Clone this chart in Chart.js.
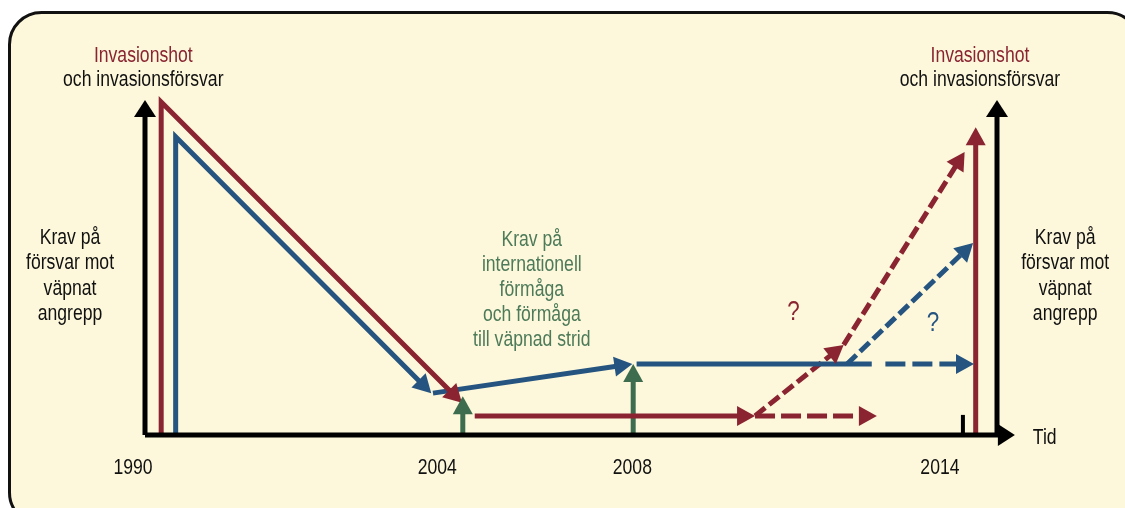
<!DOCTYPE html>
<html>
<head>
<meta charset="utf-8">
<script src="https://cdn.jsdelivr.net/npm/chart.js@4/dist/chart.umd.min.js"></script>
<style>
  html, body { margin: 0; background: #fff; }
  #wrap { width: 1125px; height: 508px; }
</style>
</head>
<body>
<div id="wrap"><canvas id="c"></canvas></div>
<script>
// diagram coordinates: time 0..100 (left axis .. right axis), level 0..100 (baseline .. axis top)
const RED = '#8a2431', BLUE = '#255480', GREEN = '#3e6c4e', BLACK = '#000';
const FONT = '"Liberation Sans", Arial, sans-serif';
const SQUEEZE = 0.8; // condensed look

// frame axes
const leftAxis  = [[0, 0], [0, 100]];
const timeAxis  = [[0, 0], [102.1, 0]];
const rightAxis = [[100, 0], [100, 100]];
const tick2014  = [[96.0, 0], [96.0, 6.0]];

// invasion threat (red) and defence (blue)
const redFall     = [[1.9, 0], [1.9, 99.4], [37.2, 9.6]];
const blueFall    = [[3.6, 0], [3.6, 89.0], [33.6, 12.5]];
const blueRise    = [[33.8, 12.5], [57.2, 21.2]];
const blueFlat    = [[57.7, 21.2], [85.3, 21.2]];
const blueFlatQ   = [[86.9, 21.2], [97.3, 21.2]];
const blueUpQ     = [[82.4, 21.2], [97.2, 57.3]];
const redFlat     = [[38.7, 5.7], [71.6, 5.7]];
const redFlatQ    = [[71.6, 5.7], [85.9, 5.7]];
const redUpQ1     = [[71.6, 5.7], [82.0, 26.9]];
const redUpQ2     = [[82.0, 26.9], [96.2, 84.5]];
const red2014     = [[97.5, 0], [97.5, 91.9]];

// international capability (green)
const green2004 = [[37.3, 0], [37.3, 11.6]];
const green2008 = [[57.3, 0], [57.3, 21.2]];

// labels
const yearLabels = ['1990', '2004', '2008', '2014'];
const yearX      = [-1.4, 34.3, 57.2, 93.3];
const yearY      = -9.9;
const headLines  = ['Invasionshot', 'och invasionsförsvar'];
const headX      = [-0.2, 98.0];
const headY      = [113.1, 106.0];
const sideLines  = ['Krav på', 'försvar mot', 'väpnat', 'angrepp'];
const sideX      = [-8.8, 108.0];
const sideY      = [58.8, 51.3, 43.6, 36.1];
const greenLines = ['Krav på', 'internationell', 'förmåga', 'och förmåga', 'till väpnad strid'];
const greenX     = 45.4;
const greenY     = [58.2, 50.7, 43.3, 35.8, 28.4];
const qMarks     = [{ x: 76.1, y: 36.7, c: RED }, { x: 92.5, y: 33.4, c: BLUE }];
const tidPos     = { x: 105.6, y: -0.9 };

const pts = arr => arr.map(p => ({ x: p[0], y: p[1] }));
const line = (arr, color, opts = {}) => Object.assign({
  data: pts(arr),
  showLine: true,
  borderColor: color,
  backgroundColor: color,
  borderWidth: 5,
  pointRadius: 0,
  borderJoinStyle: 'miter',
  borderCapStyle: 'butt',
  clip: false,
  arrow: true
}, opts);

const datasets = [
  line(leftAxis, BLACK, { head: [17, 11] }),
  line(timeAxis, BLACK, { head: [17, 11] }),
  line(rightAxis, BLACK, { head: [17, 11] }),
  line(tick2014, BLACK, { borderWidth: 4, arrow: false }),
  line(redFall, RED),
  line(blueFall, BLUE),
  line(blueRise, BLUE),
  line(blueFlat, BLUE, { arrow: false }),
  line(blueFlatQ, BLUE, { borderDash: [20, 7] }),
  line(blueUpQ, BLUE, { borderDash: [13, 5] }),
  line(redFlat, RED),
  line(redFlatQ, RED, { borderDash: [20, 6] }),
  line(redUpQ1, RED, { borderDash: [13, 5] }),
  line(redUpQ2, RED, { borderDash: [13, 5] }),
  line(red2014, RED),
  line(green2004, GREEN),
  line(green2008, GREEN)
];

const arrows = {
  id: 'arrows',
  afterDatasetsUpdate(chart) {
    this.tips = [];
    chart.data.datasets.forEach((ds, i) => {
      if (!ds.arrow) return;
      const el = chart.getDatasetMeta(i).data;
      const a = el[el.length - 2], b = el[el.length - 1];
      const ang = Math.atan2(b.y - a.y, b.x - a.x);
      const [len, half] = ds.head || [18, 10];
      this.tips.push({ x: b.x, y: b.y, ang, len, half, color: ds.borderColor });
      b.x -= Math.cos(ang) * len * 0.6;
      b.y -= Math.sin(ang) * len * 0.6;
    });
  },
  afterDatasetsDraw(chart) {
    const ctx = chart.ctx;
    (this.tips || []).forEach(t => {
      ctx.save();
      ctx.translate(t.x, t.y);
      ctx.rotate(t.ang);
      ctx.fillStyle = t.color;
      ctx.beginPath();
      ctx.moveTo(0, 0);
      ctx.lineTo(-t.len, -t.half);
      ctx.lineTo(-t.len, t.half);
      ctx.closePath();
      ctx.fill();
      ctx.restore();
    });
  }
};

// rounded backdrop, runs off the bottom and right edge like the source
const panel = {
  id: 'panel',
  beforeDraw(chart) {
    const ctx = chart.ctx;
    ctx.save();
    ctx.fillStyle = '#fff';
    ctx.fillRect(0, 0, chart.width, chart.height);
    ctx.beginPath();
    ctx.roundRect(9.5, 12.5, 1130, 512, 32);
    ctx.fillStyle = '#fdf8db';
    ctx.fill();
    ctx.lineWidth = 3;
    ctx.strokeStyle = '#111';
    ctx.stroke();
    ctx.restore();
  }
};

const texts = {
  id: 'texts',
  afterDraw(chart) {
    const ctx = chart.ctx, X = chart.scales.x, Y = chart.scales.y;
    const put = (s, x, y, color, size = 22) => {
      ctx.save();
      ctx.font = size + 'px ' + FONT;
      ctx.textAlign = 'center';
      ctx.textBaseline = 'middle';
      ctx.fillStyle = color;
      ctx.translate(X.getPixelForValue(x), Y.getPixelForValue(y));
      ctx.scale(SQUEEZE, 1);
      ctx.fillText(s, 0, 0);
      ctx.restore();
    };
    headX.forEach(x => {
      put(headLines[0], x, headY[0], RED);
      put(headLines[1], x, headY[1], '#111');
    });
    sideX.forEach(x => sideLines.forEach((s, i) => put(s, x, sideY[i], '#111')));
    greenLines.forEach((s, i) => put(s, greenX, greenY[i], '#4d7a59'));
    yearLabels.forEach((s, i) => put(s, yearX[i], yearY, '#111'));
    qMarks.forEach(q => put('?', q.x, q.y, q.c, 28));
    put('Tid', tidPos.x, tidPos.y, '#111');
  }
};

new Chart(document.getElementById('c'), {
  type: 'scatter',
  data: { datasets },
  options: {
    responsive: true,
    maintainAspectRatio: false,
    animation: false,
    events: [],
    layout: { padding: { left: 145, right: 128, top: 100, bottom: 73 } },
    scales: {
      x: { type: 'linear', min: 0, max: 100, display: false },
      y: { type: 'linear', min: 0, max: 100, display: false }
    },
    plugins: { legend: { display: false }, tooltip: { enabled: false } }
  },
  plugins: [panel, arrows, texts]
});
</script>
</body>
</html>
